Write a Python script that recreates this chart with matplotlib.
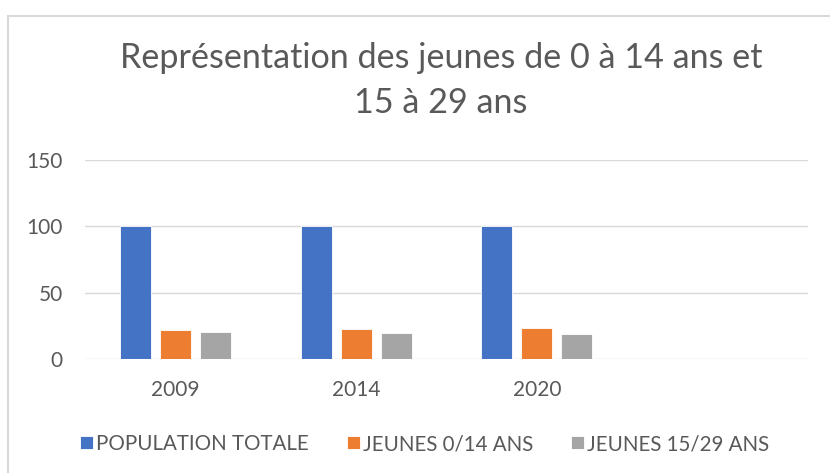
import matplotlib.pyplot as plt
import numpy as np
from matplotlib.patches import Rectangle

years = ["2009", "2014", "2020", ""]
population_totale = [100, 100, 100, 0]
jeunes_0_14 = [22, 22.6, 23.1, 0]
jeunes_15_29 = [20.2, 19.6, 19.2, 0]

series = ["POPULATION TOTALE", "JEUNES 0/14 ANS", "JEUNES 15/29 ANS"]
colors = ["#4472C4", "#ED7D31", "#A5A5A5"]
title_lines = ["Représentation des jeunes de 0 à 14 ans et", "15 à 29 ans"]

plt.rcParams["font.family"] = ["Lato", "DejaVu Sans"]
grey_txt = "#595959"

fig = plt.figure(figsize=(8.3, 4.73), dpi=100)
ax = fig.add_axes([85 / 830, 1 - 359 / 473, 723 / 830, 199 / 473])

x = np.arange(len(years))
w = 0.172
step = 0.2213
values = [population_totale, jeunes_0_14, jeunes_15_29]
for i, (vals, c, lab) in enumerate(zip(values, colors, series)):
    ax.bar(x + (i - 1) * step, vals, width=w, color=c, label=lab,
           edgecolor="white", linewidth=0.6, zorder=3)

ax.set_xlim(-0.5, len(years) - 0.5)
ax.set_ylim(0, 150)
ax.set_yticks([0, 50, 100, 150])
ax.set_xticks(x)
ax.set_xticklabels(years)
ax.grid(axis="y", color="#D9D9D9", linewidth=1, zorder=0)
for s in ax.spines.values():
    s.set_visible(False)
ax.tick_params(length=0, labelsize=15, colors=grey_txt)
ax.tick_params(axis="x", pad=15)
ax.tick_params(axis="y", pad=16)

# title, two lines placed by baseline
fig.text(441 / 830, 1 - 68 / 473, title_lines[0], ha="center", va="baseline",
         fontsize=24.6, color=grey_txt)
fig.text(441 / 830, 1 - 113 / 473, title_lines[1], ha="center", va="baseline",
         fontsize=24.6, color=grey_txt)

ax.legend(loc="center", bbox_to_anchor=(424.5 / 830, 1 - 444 / 473),
          bbox_transform=fig.transFigure, ncol=3, frameon=False,
          fontsize=14.8, labelcolor=grey_txt, handlelength=0.63, handleheight=0.63,
          handletextpad=0.15, columnspacing=1.85, borderpad=0)

# chart frame
fig.patches.append(Rectangle((8 / 830, -0.1), 1.2, 1 - 16 / 473 + 0.1,
                             transform=fig.transFigure, fill=False,
                             edgecolor="#D9D9D9", linewidth=1.5))

fig.savefig("out.png", dpi=100)
